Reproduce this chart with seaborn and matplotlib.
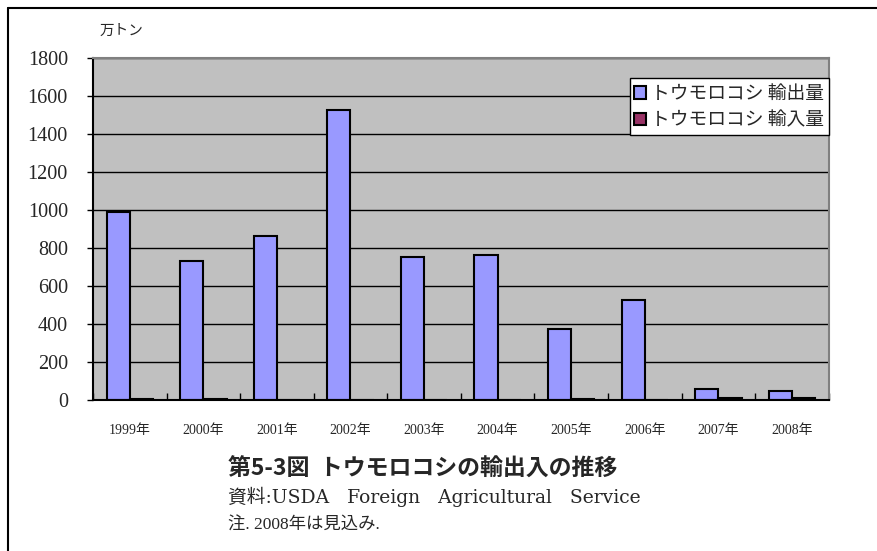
import pandas as pd
import matplotlib
matplotlib.use("Agg")
import matplotlib.pyplot as plt
import seaborn as sns

# データ（万トン）
years = ['1999年', '2000年', '2001年', '2002年', '2003年', '2004年', '2005年', '2006年', '2007年', '2008年']
exports = [989, 731, 863, 1526, 752, 763, 373, 526, 58, 47]
imports = [7, 6, 0, 0, 0, 0, 8, 0, 9, 9]
series_names = ['トウモロコシ 輸出量', 'トウモロコシ 輸入量']

df = pd.DataFrame({
    '年': years * 2,
    '量': exports + imports,
    '種類': [series_names[0]] * len(years) + [series_names[1]] * len(years),
})

sns.set_style("white")
plt.rcParams['font.family'] = ['Noto Sans CJK JP', 'DejaVu Sans']
serif = ['Liberation Serif', 'Noto Sans CJK JP']
serif_wide = ['DejaVu Serif', 'Noto Sans CJK JP']

fig = plt.figure(figsize=(8.77, 5.51), dpi=100)
ax = fig.add_axes([0.106, 0.274, 0.839, 0.621])

sns.barplot(data=df, x='年', y='量', hue='種類', hue_order=series_names,
            palette=['#9999FF', '#993366'], edgecolor='black', linewidth=1.5,
            width=0.63, saturation=1, ax=ax)

ax.set_facecolor('#C0C0C0')
ax.set_ylim(0, 1800)
ax.set_yticks(range(0, 1801, 200))
ax.set_xlim(-0.5, len(years) - 0.5)
ax.yaxis.grid(True, color='black', linewidth=1)
ax.set_axisbelow(True)
ax.set_xlabel('')
ax.set_ylabel('')

for lbl in ax.get_yticklabels():
    lbl.set_family(serif)
    lbl.set_fontsize(14.5)
ax.tick_params(axis='y', length=4, width=1, color='black', pad=14, left=True)

# x 軸目盛り（区切り位置、内向き）
ax.set_xticks([i for i in range(len(years))])
ax.set_xticklabels(years, family=serif, fontsize=10)
ax.set_xticks([i - 0.5 for i in range(len(years) + 1)], minor=True)
ax.tick_params(axis='x', which='major', length=0, pad=17)
ax.tick_params(axis='x', which='minor', direction='in', length=5, width=1, color='black', bottom=True)

for side in ['left', 'bottom']:
    ax.spines[side].set_color('black')
    ax.spines[side].set_linewidth(1.5)
for side in ['top', 'right']:
    ax.spines[side].set_color('#808080')
    ax.spines[side].set_linewidth(1.5)

leg = ax.legend(loc='upper right', bbox_to_anchor=(1.0, 0.94), frameon=True,
                fancybox=False, edgecolor='black', framealpha=1, fontsize=13.5,
                handlelength=0.65, handleheight=0.65, handletextpad=0.25,
                borderpad=0.25, labelspacing=0.3, borderaxespad=0)
leg.get_frame().set_linewidth(1)

# 図の枠
fig.add_artist(plt.Line2D([8 / 877, 8 / 877], [0, 1 - 8 / 551], color='black', linewidth=1.5))
fig.add_artist(plt.Line2D([8 / 877, 1], [1 - 8 / 551, 1 - 8 / 551], color='black', linewidth=1.5))

fig.text(100 / 877, 1 - 31 / 551, '万トン', fontsize=10.5, va='center', ha='left')
fig.text(228 / 877, 1 - 469 / 551, '第5-3図  トウモロコシの輸出入の推移',
         fontsize=16.5, fontweight='bold', va='center', ha='left')
fig.text(228 / 877, 1 - 497 / 551, '資料:USDA   Foreign   Agricultural   Service',
         family=serif_wide, fontsize=13.5, va='center', ha='left')
fig.text(228 / 877, 1 - 526 / 551, '注. 2008年は見込み.',
         family=serif, fontsize=12.5, va='center', ha='left')

fig.savefig('out.png', dpi=100)
